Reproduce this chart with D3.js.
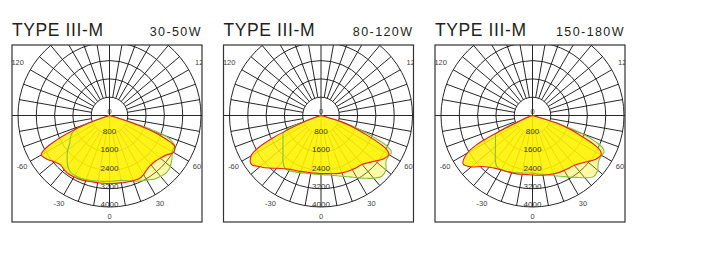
<!DOCTYPE html>
<html>
<head>
<meta charset="utf-8">
<script src="https://cdn.jsdelivr.net/npm/d3@7"></script>
<style>
  html, body { margin: 0; padding: 0; background: #fff; }
  svg { display: block; }
  text { font-family: "Liberation Sans", Arial, sans-serif; }
</style>
</head>
<body>
<svg id="chart" width="708" height="271"></svg>
<script>
// Polar angles (degrees from nadir, + to the right) at which intensity is sampled
const angles = [-75, -72.5, -70, -67.5, -65, -62.5, -60, -55, -50, -45, -40, -35, -30, -25, -20, -15, -10, -5,
  0, 5, 10, 15, 20, 25, 30, 35, 40, 45, 50, 55, 60, 62.5, 65, 67.5, 70, 72.5, 75];

// Luminous intensity (cd) – C0/C180 plane (red) and C90/C270 plane (green)
const red30_50 = [0, 250, 1000, 1800, 2600, 3200, 3440, 3330, 3150, 3040, 3090, 3120, 3100, 3080, 3040, 3000, 2980, 2975,
  2975, 2980, 2990, 3010, 3030, 3050, 2980, 2870, 2820, 2830, 2900, 3020, 3230, 3220, 3130, 2650, 2000, 900, 0];
const green30_50 = [0, 250, 1000, 1650, 1800, 1900, 1980, 2120, 2400, 2620, 2850, 3000, 3030, 3020, 2980, 2940, 2910, 2890,
  2880, 2870, 2880, 2950, 3060, 3160, 3250, 3400, 3470, 3530, 3470, 3330, 3170, 3150, 3150, 2950, 2600, 1300, 0];

const red80_120 = [0, 250, 650, 1300, 2350, 3150, 3530, 3720, 3480, 3250, 3010, 2840, 2720, 2650, 2600, 2560, 2540, 2530,
  2540, 2550, 2585, 2630, 2670, 2705, 2730, 2760, 2790, 2920, 3100, 3320, 3420, 3250, 2700, 2000, 1500, 1000, 0];
const green80_120 = [0, 250, 650, 1650, 1830, 1880, 1915, 2030, 2170, 2350, 2590, 2780, 2790, 2720, 2660, 2610, 2580, 2575,
  2580, 2610, 2650, 2730, 2830, 2960, 3140, 3350, 3580, 3760, 3700, 3470, 3450, 3470, 3200, 2500, 1800, 1100, 0];

const red150_180 = [0, 150, 200, 400, 1300, 2700, 3300, 3700, 3500, 3150, 2950, 2820, 2740, 2700, 2670, 2640, 2610, 2595,
  2600, 2620, 2650, 2680, 2710, 2745, 2770, 2800, 2840, 2960, 3140, 3350, 3460, 3350, 2900, 2250, 1750, 1100, 0];
const green150_180 = [0, 150, 300, 700, 1500, 1830, 1870, 1980, 2120, 2300, 2530, 2720, 2740, 2690, 2640, 2590, 2550, 2525,
  2520, 2560, 2620, 2690, 2800, 2930, 3110, 3300, 3550, 3780, 3720, 3520, 3490, 3520, 3400, 2950, 2300, 1300, 0];

const titles = ["TYPE III-M", "TYPE III-M", "TYPE III-M"];
const powers = ["30-50W", "80-120W", "150-180W"];
const redSeries = [red30_50, red80_120, red150_180];
const greenSeries = [green30_50, green80_120, green150_180];

// Grid ticks
const ringTicks = [800, 1600, 2400, 3200, 4000];
const angleTicks = [0, 30, 60, 120, -30, -60, -120];
const angleTickLabels = ["0", "30", "60", "120", "-30", "-60", "120"];

// Layout
const frameX = [12, 223.5, 435];
const frameW = 190, frameH = 177, frameY = 45;
const cxOff = 97.5, cyOff = 70.5;

const ink = "#1e1b1c";
const rScale = d3.scaleLinear().domain([0, 4000]).range([0, 91.5]);
const rad = deg => deg * Math.PI / 180;

const svg = d3.select("#chart");
const defs = svg.append("defs");

const curve = d3.lineRadial()
  .angle(d => Math.PI - rad(d.a))
  .radius(d => rScale(d.v))
  .curve(d3.curveCatmullRom.alpha(0.5));

frameX.forEach((fx, i) => {
  const cx = fx + cxOff, cy = frameY + cyOff;

  // Headings
  svg.append("text")
    .attr("x", fx).attr("y", 35.7)
    .attr("font-size", 17.5).attr("letter-spacing", 0.6)
    .attr("fill", "#231f20")
    .text(titles[i]);
  svg.append("text")
    .attr("x", fx + frameW - 1.5 + 1.4).attr("y", 35.7)
    .attr("text-anchor", "end")
    .attr("font-size", 12.5).attr("letter-spacing", 1.4)
    .attr("fill", "#231f20")
    .text(powers[i]);

  const clipId = "clip" + i;
  defs.append("clipPath").attr("id", clipId)
    .append("rect").attr("x", fx).attr("y", frameY).attr("width", frameW).attr("height", frameH);

  const g = svg.append("g").attr("clip-path", `url(#${clipId})`);
  const p = g.append("g").attr("transform", `translate(${cx},${cy})`);

  // Grid: rings
  p.selectAll("circle.ring").data(ringTicks).join("circle")
    .attr("r", d => rScale(d))
    .attr("fill", "none").attr("stroke", ink).attr("stroke-width", 0.95);

  // Grid: spokes every 10 degrees outside the first ring
  const spokes = d3.range(0, 360, 10).filter(a => a % 90 !== 0);
  p.selectAll("line.spoke").data(spokes).join("line")
    .attr("x1", a => rScale(ringTicks[0]) * Math.sin(rad(a)))
    .attr("y1", a => rScale(ringTicks[0]) * Math.cos(rad(a)))
    .attr("x2", a => rScale(4000) * Math.sin(rad(a)))
    .attr("y2", a => rScale(4000) * Math.cos(rad(a)))
    .attr("stroke", ink).attr("stroke-width", 0.95);

  // Main axes
  p.append("line").attr("x1", -cxOff).attr("x2", frameW - cxOff).attr("y1", 0).attr("y2", 0)
    .attr("stroke", ink).attr("stroke-width", 0.95);
  p.append("line").attr("x1", 0).attr("x2", 0).attr("y1", -cyOff).attr("y2", rScale(4000))
    .attr("stroke", ink).attr("stroke-width", 0.95);

  // Distribution curves
  const redPts = angles.map((a, k) => ({ a, v: redSeries[i][k] }));
  const greenPts = angles.map((a, k) => ({ a, v: greenSeries[i][k] }));

  p.append("path").attr("d", curve(greenPts) + "Z")
    .attr("fill", "#fff100").attr("fill-opacity", 0.35);
  p.append("path").attr("d", curve(redPts) + "Z")
    .attr("fill", "#fff100").attr("fill-opacity", 0.85);
  p.append("path").attr("d", curve(greenPts))
    .attr("fill", "none").attr("stroke", "#7cc242").attr("stroke-width", 1.1);
  p.append("path").attr("d", curve(redPts))
    .attr("fill", "none").attr("stroke", "#ed1c24").attr("stroke-width", 1.1);

  // Intensity labels along the nadir axis
  p.selectAll("text.ring").data(ringTicks).join("text")
    .attr("x", 0).attr("y", d => rScale(d) - 2.5)
    .attr("dy", "0.35em")
    .attr("text-anchor", "middle")
    .attr("font-size", 8).attr("fill", "#333")
    .text(d => d);
  p.append("text").attr("x", 0).attr("y", -2)
    .attr("text-anchor", "middle").attr("font-size", 7.5).attr("fill", "#333")
    .text("0");

  // Angle labels (the upper ones sit a little further out)
  const labelRadius = a => Math.abs(a) > 90 ? 106 : 101;
  p.selectAll("text.ang").data(angleTicks).join("text")
    .attr("x", a => labelRadius(a) * Math.sin(rad(a)))
    .attr("y", a => labelRadius(a) * Math.cos(rad(a)))
    .attr("dy", "0.35em")
    .attr("text-anchor", "middle")
    .attr("font-size", 7.5).attr("fill", "#444")
    .text((a, k) => angleTickLabels[k]);

  // Frame
  svg.append("rect")
    .attr("x", fx).attr("y", frameY).attr("width", frameW).attr("height", frameH)
    .attr("fill", "none").attr("stroke", "#333").attr("stroke-width", 1.2);
});
</script>
</body>
</html>
